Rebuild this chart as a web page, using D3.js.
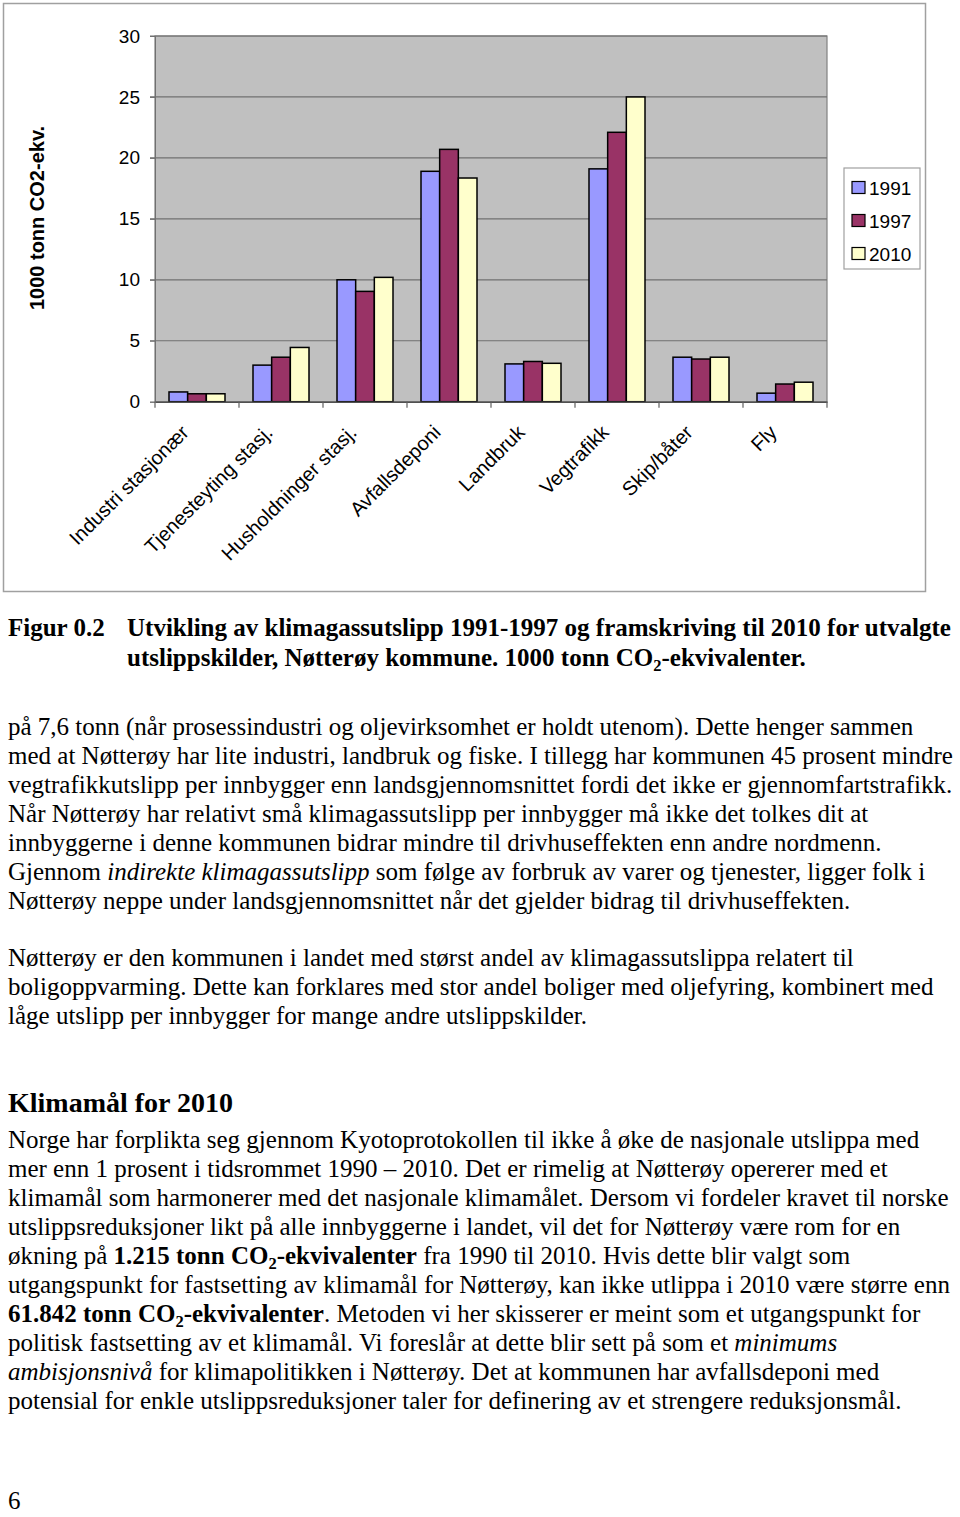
<!DOCTYPE html>
<html><head><meta charset="utf-8">
<script src="https://cdn.jsdelivr.net/npm/d3@7"></script>
<style>body{margin:0;background:#fff}</style>
</head><body><svg id="c" width="960" height="1517"></svg>
<script>
// ---------- DATA ----------
const categories = ["Industri stasjonær","Tjenesteyting stasj.","Husholdninger stasj.","Avfallsdeponi","Landbruk","Vegtrafikk","Skip/båter","Fly"];
const seriesNames = ["1991","1997","2010"];
const values1991 = [0.8, 3.0, 10.0, 18.9, 3.1, 19.1, 3.65, 0.7];
const values1997 = [0.65, 3.65, 9.05, 20.7, 3.3, 22.1, 3.5, 1.45];
const values2010 = [0.65, 4.45, 10.2, 18.35, 3.15, 25.0, 3.65, 1.6];
const yTicks = [0, 5, 10, 15, 20, 25, 30];
const yTitle = "1000 tonn CO2-ekv.";

// text blocks: [text, style] where style: n normal, b bold, i italic, bs bold subscript
const captionLabel = "Figur 0.2";
const captionLines = [
  [["Utvikling av klimagassutslipp 1991-1997 og framskriving til 2010 for utvalgte","b"]],
  [["utslippskilder, Nøtterøy kommune. 1000 tonn CO","b"],["2","bs"],["-ekvivalenter.","b"]]
];
const para1 = [
  [["på 7,6 tonn (når prosessindustri og oljevirksomhet er holdt utenom). Dette henger sammen","n"]],
  [["med at Nøtterøy har lite industri, landbruk og fiske. I tillegg har kommunen 45 prosent mindre","n"]],
  [["vegtrafikkutslipp per innbygger enn landsgjennomsnittet fordi det ikke er gjennomfartstrafikk.","n"]],
  [["Når Nøtterøy har relativt små klimagassutslipp per innbygger må ikke det tolkes dit at","n"]],
  [["innbyggerne i denne kommunen bidrar mindre til drivhuseffekten enn andre nordmenn.","n"]],
  [["Gjennom ","n"],["indirekte klimagassutslipp","i"],[" som følge av forbruk av varer og tjenester, ligger folk i","n"]],
  [["Nøtterøy neppe under landsgjennomsnittet når det gjelder bidrag til drivhuseffekten.","n"]]
];
const para2 = [
  [["Nøtterøy er den kommunen i landet med størst andel av klimagassutslippa relatert til","n"]],
  [["boligoppvarming. Dette kan forklares med stor andel boliger med oljefyring, kombinert med","n"]],
  [["låge utslipp per innbygger for mange andre utslippskilder.","n"]]
];
const heading = "Klimamål for 2010";
const para3 = [
  [["Norge har forplikta seg gjennom Kyotoprotokollen til ikke å øke de nasjonale utslippa med","n"]],
  [["mer enn 1 prosent i tidsrommet 1990 – 2010. Det er rimelig at Nøtterøy opererer med et","n"]],
  [["klimamål som harmonerer med det nasjonale klimamålet. Dersom vi fordeler kravet til norske","n"]],
  [["utslippsreduksjoner likt på alle innbyggerne i landet, vil det for Nøtterøy være rom for en","n"]],
  [["økning på ","n"],["1.215 tonn CO","b"],["2","bs"],["-ekvivalenter","b"],[" fra 1990 til 2010. Hvis dette blir valgt som","n"]],
  [["utgangspunkt for fastsetting av klimamål for Nøtterøy, kan ikke utlippa i 2010 være større enn","n"]],
  [["61.842 tonn CO","b"],["2","bs"],["-ekvivalenter","b"],[". Metoden vi her skisserer er meint som et utgangspunkt for","n"]],
  [["politisk fastsetting av et klimamål. Vi foreslår at dette blir sett på som et ","n"],["minimums","i"]],
  [["ambisjonsnivå","i"],[" for klimapolitikken i Nøtterøy. Det at kommunen har avfallsdeponi med","n"]],
  [["potensial for enkle utslippsreduksjoner taler for definering av et strengere reduksjonsmål.","n"]]
];
const pageNumber = "6";

// ---------- CHART ----------
const svg = d3.select("#c");
const colors = ["#9999FF", "#993366", "#FFFFCC"];
const series = [values1991, values1997, values2010];
const plot = {x0: 155, x1: 827, y0: 36, y1: 401.7};

svg.append("rect").attr("x", 3.5).attr("y", 3.5).attr("width", 922).attr("height", 588)
  .attr("fill", "#fff").attr("stroke", "#a0a0a0").attr("stroke-width", 1.5);

const x = d3.scaleBand().domain(categories).range([plot.x0, plot.x1]).paddingInner(0).paddingOuter(0);
// Excel-style gap width of 150%: outer padding of 0.75 bar widths on each side
const xInner = d3.scaleBand().domain(seriesNames).range([0, x.bandwidth()]).paddingInner(0).paddingOuter(0.75);
const y = d3.scaleLinear().domain([0, 30]).range([plot.y1, plot.y0]);

svg.append("rect").attr("x", plot.x0).attr("y", plot.y0).attr("width", plot.x1 - plot.x0).attr("height", plot.y1 - plot.y0)
  .attr("fill", "#C0C0C0").attr("stroke", "#808080").attr("stroke-width", 1.2);

// gridlines
svg.append("g").selectAll("line").data(yTicks.filter(d => d > 0)).join("line")
  .attr("x1", plot.x0 - 5).attr("x2", plot.x1).attr("y1", d => y(d)).attr("y2", d => y(d))
  .attr("stroke", "#707070").attr("stroke-width", 1.2);

// y axis labels
const yAxis = d3.axisLeft(y).tickValues(yTicks).tickSize(5).tickPadding(10).tickFormat(d3.format("d"));
const gy = svg.append("g").attr("transform", `translate(${plot.x0},0)`).call(yAxis);
gy.select(".domain").attr("stroke", "#707070");
gy.selectAll(".tick line").attr("stroke", "#707070");
gy.selectAll("text").attr("font-family", "Liberation Sans, Arial, sans-serif").attr("font-size", 19).attr("fill", "#000");

// bars
const groups = svg.append("g").selectAll("g").data(categories).join("g")
  .attr("transform", d => `translate(${x(d)},0)`);
groups.selectAll("rect").data((c, i) => seriesNames.map((s, k) => ({s, k, v: series[k][i]}))).join("rect")
  .attr("x", d => xInner(d.s)).attr("width", xInner.bandwidth())
  .attr("y", d => y(d.v)).attr("height", d => y(0) - y(d.v))
  .attr("fill", d => colors[d.k]).attr("stroke", "#000").attr("stroke-width", 1.5);

// x axis
const xAxis = d3.axisBottom(x).tickSize(0).tickFormat("");
const gx = svg.append("g").attr("transform", `translate(0,${plot.y1})`).call(xAxis);
gx.select(".domain").attr("stroke", "#505050").attr("stroke-width", 1.5);
svg.append("g").selectAll("line").data(d3.range(categories.length + 1)).join("line")
  .attr("x1", i => plot.x0 + i * x.step()).attr("x2", i => plot.x0 + i * x.step())
  .attr("y1", plot.y1).attr("y2", plot.y1 + 6).attr("stroke", "#606060").attr("stroke-width", 1.2);

svg.append("g").selectAll("text").data(categories).join("text")
  .attr("transform", d => `translate(${x(d) + x.bandwidth() / 2 - 7},${plot.y1 + 32}) rotate(-45)`)
  .attr("text-anchor", "end")
  .attr("font-family", "Liberation Sans, Arial, sans-serif").attr("font-size", 20)
  .text(d => d);

// y title
svg.append("text").attr("transform", `translate(44,218) rotate(-90)`)
  .attr("text-anchor", "middle").attr("font-family", "Liberation Sans, Arial, sans-serif")
  .attr("font-size", 20).attr("font-weight", "bold").text(yTitle);

// legend
const lg = svg.append("g");
lg.append("rect").attr("x", 844).attr("y", 168).attr("width", 76).attr("height", 101)
  .attr("fill", "#fff").attr("stroke", "#a0a0a0").attr("stroke-width", 1.2);
const legendY = d3.scalePoint().domain(seriesNames).range([187.5, 253.5]);
seriesNames.forEach((s, k) => {
  lg.append("rect").attr("x", 852).attr("y", legendY(s) - 6).attr("width", 13).attr("height", 12)
    .attr("fill", colors[k]).attr("stroke", "#000").attr("stroke-width", 1.2);
  lg.append("text").attr("x", 869).attr("y", legendY(s) + 7)
    .attr("font-family", "Liberation Sans, Arial, sans-serif").attr("font-size", 19).text(s);
});

// ---------- TEXT ----------
const serif = "Liberation Serif, Times New Roman, serif";
function drawLine(segs, xPos, baseline, size) {
  const t = svg.append("text").attr("x", xPos).attr("y", baseline)
    .attr("font-family", serif).attr("font-size", size).attr("fill", "#000");
  let shifted = false;
  segs.forEach(([txt, st]) => {
    const ts = t.append("tspan").text(txt);
    if (st === "b" || st === "bs") ts.attr("font-weight", "bold");
    if (st === "i") ts.attr("font-style", "italic");
    if (st === "bs") { ts.attr("font-size", size * 0.66).attr("dy", 5); shifted = true; }
    else if (shifted) { ts.attr("dy", -5); shifted = false; }
  });
}
drawLine([[captionLabel, "b"]], 8, 636, 25);
captionLines.forEach((l, i) => drawLine(l, 127, 636 + i * 30, 25));
para1.forEach((l, i) => drawLine(l, 8, 735 + i * 29, 25));
para2.forEach((l, i) => drawLine(l, 8, 966 + i * 29, 25));
drawLine([[heading, "b"]], 8, 1112, 28);
para3.forEach((l, i) => drawLine(l, 8, 1148 + i * 29, 25));
drawLine([[pageNumber, "n"]], 8, 1509, 25);
</script></body></html>
